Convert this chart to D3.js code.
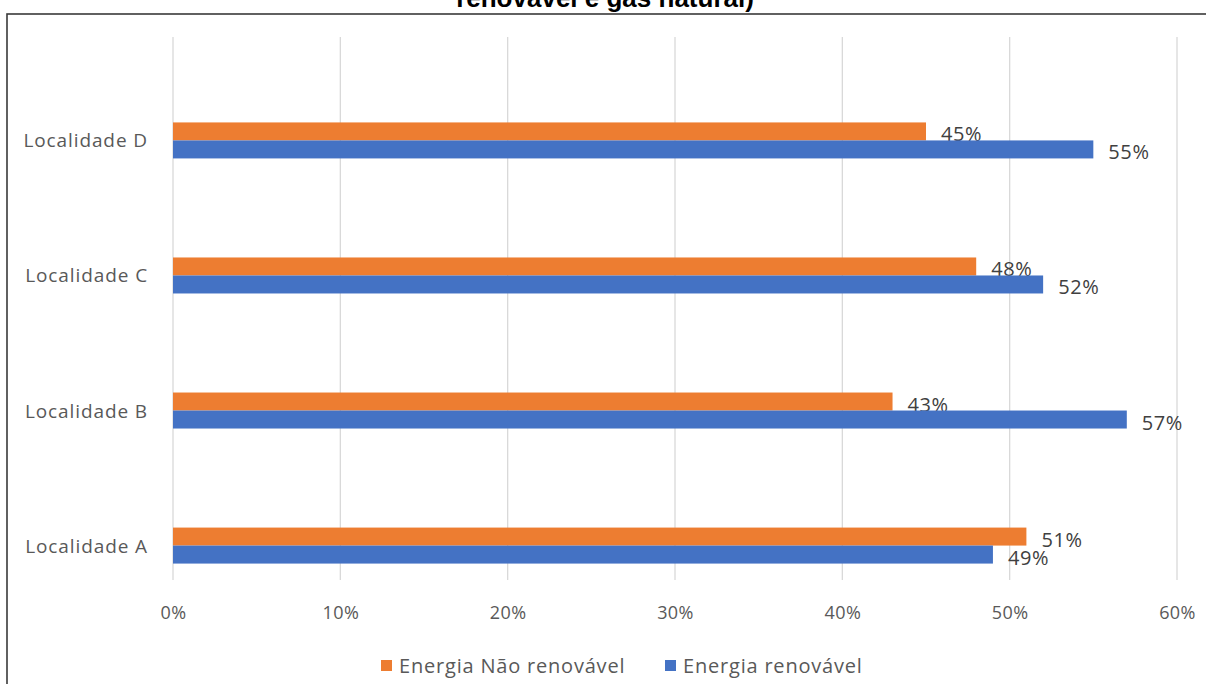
<!DOCTYPE html>
<html>
<head>
<meta charset="utf-8">
<script src="https://cdn.jsdelivr.net/npm/d3@7"></script>
<style>
  body { margin: 0; background: #fff; }
  svg { display: block; }
</style>
</head>
<body>
<svg id="chart" width="1206" height="684"></svg>
<script>
// Share of energy sources per locality
const categories = ["Localidade A", "Localidade B", "Localidade C", "Localidade D"];
const naoRenovavel = [0.51, 0.43, 0.48, 0.45];
const renovavel = [0.49, 0.57, 0.52, 0.55];
const xTicks = [0, 0.1, 0.2, 0.3, 0.4, 0.5, 0.6];
const seriesNames = ["Energia Não renovável", "Energia renovável"];
const colors = ["#ED7D31", "#4472C4"];

const svg = d3.select("#chart");
const W = 1206, H = 684;
const font = "'Open Sans', 'Noto Sans', sans-serif";
const pct = d3.format(".0%");

// Title (its upper part runs past the top edge)
svg.append("text")
  .attr("x", 605).attr("y", 7)
  .attr("text-anchor", "middle")
  .attr("font-family", "'Liberation Sans', Arial, sans-serif")
  .attr("font-weight", "bold")
  .attr("font-size", 26)
  .attr("fill", "#000")
  .text("renovável e gás natural)");

// Chart frame
svg.append("rect")
  .attr("x", 7).attr("y", 14)
  .attr("width", W + 10).attr("height", H)
  .attr("fill", "none")
  .attr("stroke", "#3a3a3a")
  .attr("stroke-width", 1.6);

const plot = { left: 173, right: 1177, top: 37, bottom: 580 };

const x = d3.scaleLinear().domain([0, 0.6]).range([plot.left, plot.right]);
const y = d3.scaleBand().domain(categories.slice().reverse())
  .range([72.9, 613.1]).paddingInner(0).paddingOuter(0);
const center = c => y(c) + y.bandwidth() / 2;

// Gridlines
svg.append("g").selectAll("line").data(xTicks).join("line")
  .attr("x1", d => x(d)).attr("x2", d => x(d))
  .attr("y1", plot.top).attr("y2", plot.bottom)
  .attr("stroke", "#D9D9D9").attr("stroke-width", 1.3);

// x axis tick labels
const xAxis = d3.axisBottom(x).tickValues(xTicks).tickFormat(pct).tickSize(0).tickPadding(0);
const gx = svg.append("g").attr("transform", `translate(0,${plot.bottom + 26})`).call(xAxis);
gx.select(".domain").remove();
gx.selectAll("text")
  .attr("font-family", font).attr("font-size", 18).attr("fill", "#595959")
  .attr("letter-spacing", 0.4);

const barH = 18;
const groups = categories.map((c, i) => ({ cat: c, vals: [naoRenovavel[i], renovavel[i]] }));

// Bars and value labels
groups.forEach(g => {
  g.vals.forEach((v, s) => {
    const top = center(g.cat) - barH + s * barH;
    svg.append("rect")
      .attr("x", x(0)).attr("y", top)
      .attr("width", x(v) - x(0)).attr("height", barH)
      .attr("fill", colors[s]);
    svg.append("text")
      .attr("x", x(v) + 15)
      .attr("y", top + barH / 2 + 10)
      .attr("font-family", font).attr("font-size", 20)
      .attr("letter-spacing", 0.6)
      .attr("fill", "#404040")
      .text(pct(v));
  });
});

// Category labels
svg.append("g").selectAll("text").data(categories).join("text")
  .attr("x", 148).attr("y", d => center(d) + 7)
  .attr("text-anchor", "end")
  .attr("font-family", font).attr("font-size", 19)
  .attr("letter-spacing", 0.9)
  .attr("fill", "#595959")
  .text(d => d);

// Legend
const legendX = [381, 665];
seriesNames.forEach((n, i) => {
  svg.append("rect").attr("x", legendX[i]).attr("y", 660).attr("width", 11).attr("height", 11).attr("fill", colors[i]);
  svg.append("text").attr("x", legendX[i] + 18).attr("y", 673)
    .attr("font-family", font).attr("font-size", 20).attr("letter-spacing", 0.8)
    .attr("fill", "#595959").text(n);
});
</script>
</body>
</html>
